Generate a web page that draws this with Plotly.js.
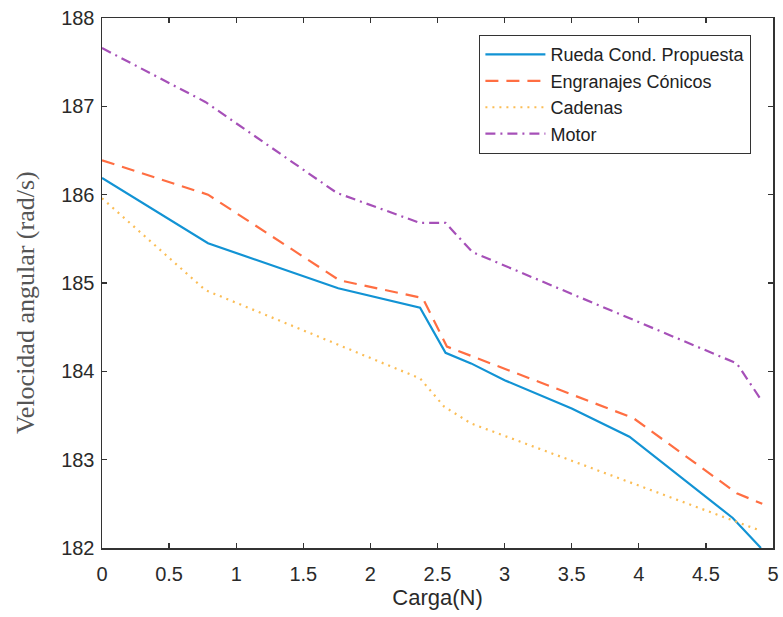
<!DOCTYPE html>
<html>
<head>
<meta charset="utf-8">
<script src="https://cdn.plot.ly/plotly-3.0.1.min.js"></script>
<style>html,body{margin:0;padding:0;background:#fff;}#chart{width:783px;height:617px;}</style>
</head>
<body>
<div id="chart"></div>
<script>
// Data
const seriesNames = ["Rueda Cond. Propuesta", "Engranajes Cónicos", "Cadenas", "Motor"];

const ruedaX = [0, 0.79, 1.76, 2.37, 2.56, 2.75, 3.0, 3.5, 3.93, 4.70, 4.91];
const ruedaY = [186.19, 185.45, 184.94, 184.72, 184.21, 184.09, 183.90, 183.58, 183.26, 182.34, 182.0];

const engranajesX = [0, 0.79, 1.77, 2.39, 2.57, 3.96, 4.73, 4.92];
const engranajesY = [186.39, 186.0, 185.03, 184.83, 184.28, 183.47, 182.62, 182.5];

const cadenasX = [0, 0.77, 2.37, 2.55, 2.75, 4.90];
const cadenasY = [185.96, 184.92, 183.92, 183.6, 183.41, 182.2];

const motorX = [0, 0.77, 1.75, 2.37, 2.56, 2.76, 4.73, 4.91];
const motorY = [187.66, 187.05, 186.02, 185.68, 185.68, 185.35, 184.09, 183.68];

const xTitle = "Carga(N)";
const yTitle = "Velocidad angular (rad/s)";

const traces = [
  {x: ruedaX, y: ruedaY, name: seriesNames[0], mode: "lines",
   line: {color: "#1293d4", width: 2.2, dash: "solid"}},
  {x: engranajesX, y: engranajesY, name: seriesNames[1], mode: "lines",
   line: {color: "#ff6e42", width: 2.2, dash: "13px,8px"}},
  {x: cadenasX, y: cadenasY, name: seriesNames[2], mode: "lines",
   line: {color: "#fbbd55", width: 2.2, dash: "2px,5px"}},
  {x: motorX, y: motorY, name: seriesNames[3], mode: "lines",
   line: {color: "#a650b8", width: 2.2, dash: "10px,5px,2px,5px"}}
];

const axisCommon = {
  showline: true, linecolor: "#333", linewidth: 1.5, mirror: "ticks",
  ticks: "inside", ticklen: 5, tickwidth: 1.3, tickcolor: "#333",
  showgrid: false, zeroline: false,
  tickfont: {family: "Liberation Sans, Arial, sans-serif", size: 20, color: "#2a2a2a"}
};

const layout = {
  width: 783, height: 617,
  margin: {l: 102, r: 10, t: 18, b: 69},
  paper_bgcolor: "#fff", plot_bgcolor: "#fff",
  showlegend: true,
  xaxis: Object.assign({}, axisCommon, {
    range: [0, 5], dtick: 0.5, tick0: 0, ticklabelstandoff: 7,
    title: {text: xTitle, font: {family: "Liberation Sans, Arial, sans-serif", size: 22, color: "#2a2a2a"}, standoff: 6}
  }),
  yaxis: Object.assign({}, axisCommon, {
    range: [182, 188], dtick: 1, tick0: 182, ticklabelstandoff: 2
  }),
  annotations: [{
    text: yTitle, textangle: -90, showarrow: false,
    xref: "paper", yref: "paper", x: -0.1148, y: 0.464,
    xanchor: "center", yanchor: "middle",
    font: {family: "Liberation Serif, Times New Roman, serif", size: 26, color: "#555"}
  }],
  legend: {
    x: 0.562, y: 0.968, xanchor: "left", yanchor: "top",
    bgcolor: "#fff", bordercolor: "#333", borderwidth: 1.3,
    font: {family: "Liberation Sans, Arial, sans-serif", size: 18, color: "#222"},
    itemwidth: 60, tracegroupgap: 0
  }
};

Plotly.newPlot("chart", traces, layout, {displayModeBar: false, staticPlot: true});
</script>
</body>
</html>
